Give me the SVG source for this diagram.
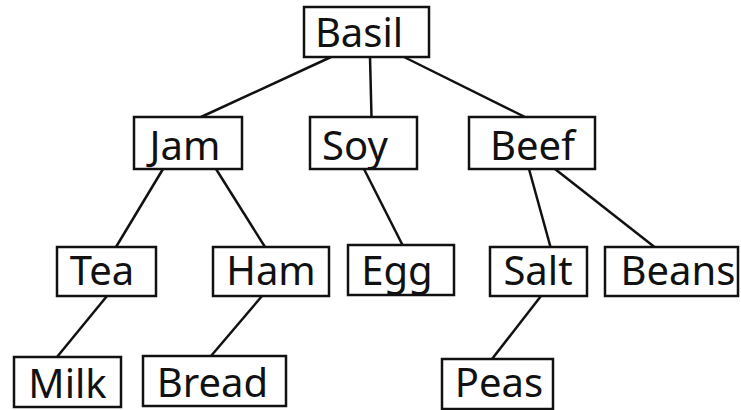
<svg xmlns="http://www.w3.org/2000/svg" width="741" height="410" viewBox="0 0 741 410">
<style>
.box{fill:#fff;stroke:#111;stroke-width:2.5}
.lbl{font-family:"Noto Sans","Open Sans","DejaVu Sans",sans-serif;font-size:40px;fill:#111;text-anchor:middle}
.edge{stroke:#111;stroke-width:2.5;fill:none}
</style>
<rect width="741" height="410" fill="#fff"/>
<g id="connectors">
<line class="edge" x1="331" y1="57" x2="201" y2="117"/>
<line class="edge" x1="370" y1="57" x2="371.5" y2="117"/>
<line class="edge" x1="404" y1="57" x2="525" y2="117"/>
<line class="edge" x1="163" y1="169" x2="116" y2="247"/>
<line class="edge" x1="216" y1="169" x2="265" y2="247"/>
<line class="edge" x1="364" y1="169" x2="402.5" y2="245"/>
<line class="edge" x1="529" y1="169" x2="550.5" y2="247"/>
<line class="edge" x1="555" y1="169" x2="654.5" y2="247"/>
<line class="edge" x1="107" y1="296" x2="57" y2="357"/>
<line class="edge" x1="262" y1="296" x2="211" y2="356"/>
<line class="edge" x1="541" y1="296" x2="492" y2="359"/>
</g>
<g id="basil"><rect class="box" x="304" y="7" width="125" height="50"/><text class="lbl" x="359" y="47">Basil</text></g>
<g id="jam"><rect class="box" x="134" y="117" width="108" height="52"/><text class="lbl" x="185" y="160">Jam</text></g>
<g id="soy"><rect class="box" x="310" y="117" width="107" height="52"/><text class="lbl" x="355" y="160">Soy</text></g>
<g id="beef"><rect class="box" x="469" y="117" width="126" height="52"/><text class="lbl" x="532.5" y="160">Beef</text></g>
<g id="tea"><rect class="box" x="57" y="247" width="99" height="49"/><text class="lbl" x="102" y="285">Tea</text></g>
<g id="ham"><rect class="box" x="213" y="247" width="116" height="49"/><text class="lbl" x="271" y="285">Ham</text></g>
<g id="egg"><rect class="box" x="348" y="245" width="106" height="50"/><text class="lbl" x="397" y="285">Egg</text></g>
<g id="salt"><rect class="box" x="490" y="247" width="97" height="49"/><text class="lbl" x="538" y="285">Salt</text></g>
<g id="beans"><rect class="box" x="605" y="247" width="133" height="49"/><text class="lbl" x="678" y="285">Beans</text></g>
<g id="milk"><rect class="box" x="14" y="357" width="107" height="50"/><text class="lbl" x="67.5" y="398">Milk</text></g>
<g id="bread"><rect class="box" x="143" y="356" width="143" height="50"/><text class="lbl" x="212.5" y="397">Bread</text></g>
<g id="peas"><rect class="box" x="442" y="359" width="111" height="50"/><text class="lbl" x="499" y="397">Peas</text></g>
</svg>
